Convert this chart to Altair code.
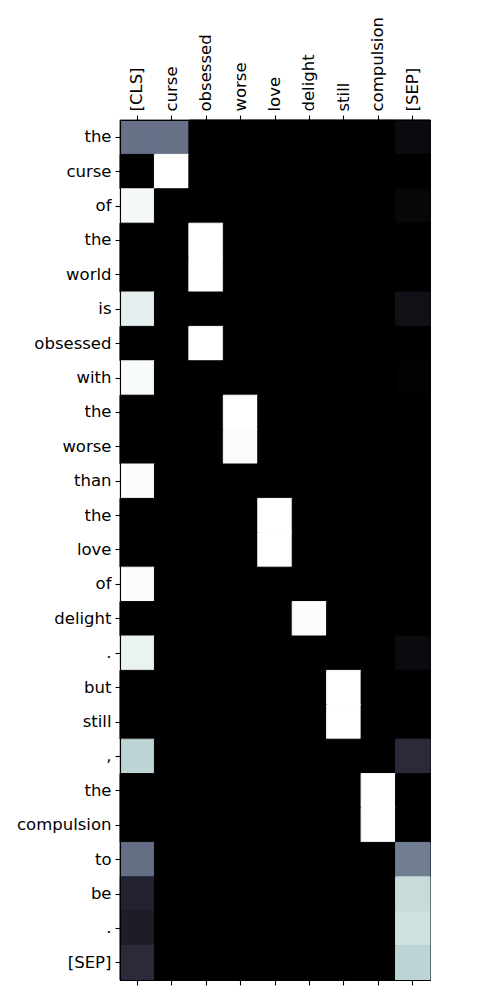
import json
import altair as alt
import pandas as pd

cols = ["[CLS]", "curse", "obsessed", "worse", "love", "delight", "still", "compulsion", "[SEP]"]
rows = ["the", "curse", "of", "the", "world", "is", "obsessed", "with", "the", "worse",
        "than", "the", "love", "of", "delight", ".", "but", "still", ",", "the",
        "compulsion", "to", "be", ".", "[SEP]"]

# attention weights (colormap position 0..1), one list per row, columns as in `cols`
weights = [
    [0.47, 0.47, 0.0, 0.0, 0.0, 0.0, 0.0, 0.0, 0.05],
    [0.0, 1.0, 0.0, 0.0, 0.0, 0.0, 0.0, 0.0, 0.0],
    [0.97, 0.0, 0.0, 0.0, 0.0, 0.0, 0.0, 0.0, 0.03],
    [0.0, 0.0, 1.0, 0.0, 0.0, 0.0, 0.0, 0.0, 0.0],
    [0.0, 0.0, 1.0, 0.0, 0.0, 0.0, 0.0, 0.0, 0.0],
    [0.93, 0.0, 0.0, 0.0, 0.0, 0.0, 0.0, 0.0, 0.07],
    [0.0, 0.0, 1.0, 0.0, 0.0, 0.0, 0.0, 0.0, 0.0],
    [0.98, 0.0, 0.0, 0.0, 0.0, 0.0, 0.0, 0.0, 0.01],
    [0.0, 0.0, 0.0, 1.0, 0.0, 0.0, 0.0, 0.0, 0.0],
    [0.0, 0.0, 0.003, 0.99, 0.0, 0.0, 0.0, 0.0, 0.0],
    [0.99, 0.0, 0.0, 0.0, 0.0, 0.0, 0.0, 0.0, 0.0],
    [0.0, 0.0, 0.0, 0.0, 1.0, 0.0, 0.0, 0.0, 0.0],
    [0.0, 0.0, 0.0, 0.0, 1.0, 0.0, 0.0, 0.0, 0.0],
    [0.99, 0.0, 0.0, 0.0, 0.0, 0.0, 0.0, 0.0, 0.0],
    [0.0, 0.0, 0.0, 0.0, 0.0, 0.99, 0.003, 0.0, 0.0],
    [0.94, 0.0, 0.0, 0.0, 0.0, 0.0, 0.0, 0.0, 0.05],
    [0.0, 0.0, 0.0, 0.0, 0.0, 0.0, 1.0, 0.0, 0.0],
    [0.0, 0.0, 0.0, 0.0, 0.0, 0.0, 1.0, 0.0, 0.0],
    [0.81, 0.0, 0.0, 0.0, 0.0, 0.0, 0.0, 0.0, 0.19],
    [0.0, 0.0, 0.0, 0.0, 0.0, 0.0, 0.0, 1.0, 0.0],
    [0.0, 0.0, 0.0, 0.0, 0.0, 0.0, 0.0, 1.0, 0.0],
    [0.46, 0.0, 0.0, 0.0, 0.0, 0.0, 0.0, 0.0, 0.51],
    [0.155, 0.0, 0.0, 0.0, 0.0, 0.0, 0.0, 0.0, 0.84],
    [0.13, 0.0, 0.0, 0.0, 0.0, 0.0, 0.0, 0.0, 0.865],
    [0.19, 0.0, 0.0, 0.0, 0.0, 0.0, 0.0, 0.0, 0.81],
]

records = []
for i, r in enumerate(weights):
    for j, v in enumerate(r):
        records.append({"row": i, "col": cols[j], "w": v})
df = pd.DataFrame(records)

# matplotlib "bone" colormap breakpoints
bone = alt.Scale(domain=[0, 0.365079, 0.746032, 1],
                 range=["#000000", "#515171", "#a6c6c6", "#ffffff"],
                 interpolate="rgb")

label_expr = json.dumps(rows) + "[datum.value]"
FONT = "DejaVu Sans"

y_enc = alt.Y("row:O", sort=list(range(len(rows))),
              scale=alt.Scale(paddingInner=0, paddingOuter=0),
              axis=alt.Axis(title=None, labelExpr=label_expr, orient="left"))

heat = alt.Chart(df).mark_rect(strokeWidth=1).encode(
    x=alt.X("col:N", sort=cols, scale=alt.Scale(paddingInner=0, paddingOuter=0),
            axis=alt.Axis(title=None, orient="top", labelAngle=-90,
                          labelAlign="left", labelBaseline="middle")),
    y=y_enc,
    color=alt.Color("w:Q", scale=bone, legend=None),
    stroke=alt.Stroke("w:Q", scale=bone, legend=None),
)

bottom = alt.Chart(df).mark_rect(opacity=0, strokeWidth=0).encode(
    x=alt.X("col:N", sort=cols, scale=alt.Scale(paddingInner=0, paddingOuter=0),
            axis=alt.Axis(title=None, orient="bottom", labels=False)),
    y=y_enc,
)

chart = alt.layer(heat, bottom).resolve_axis(x="independent").properties(
    width=310, height=860,
    autosize=alt.AutoSizeParams(type="none"),
    padding={"left": 120, "top": 120, "right": 70, "bottom": 20},
    background="white",
).configure_view(stroke="black", strokeWidth=1.1, fill="black").configure_axis(
    domainColor="black", domainWidth=1.1, tickColor="black", tickWidth=1.1,
    tickSize=5, labelPadding=4, labelColor="black", labelFont=FONT,
    labelFontSize=16.5, grid=False, labelOverlap=False,
)

chart.save("out.html", embed_options={"renderer": "svg", "actions": False})
